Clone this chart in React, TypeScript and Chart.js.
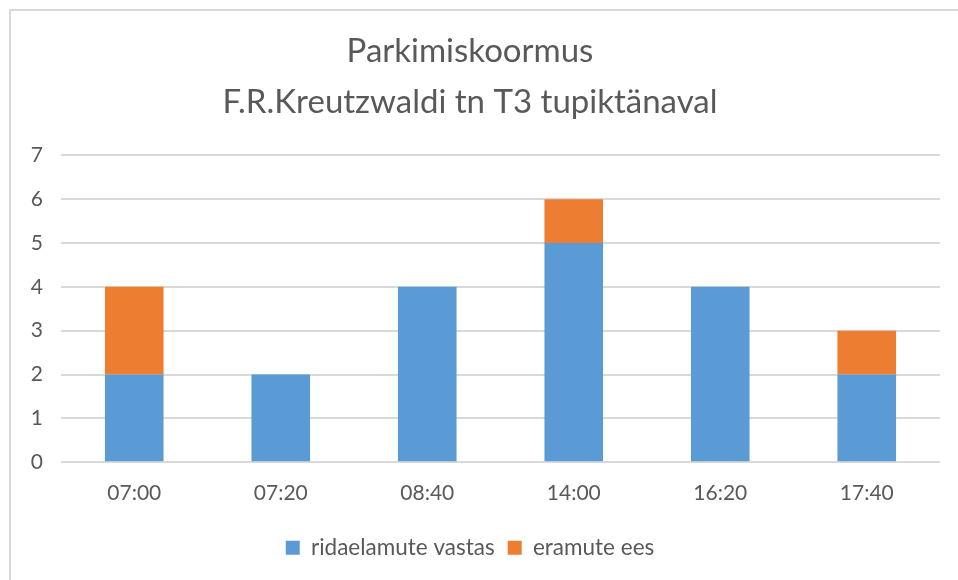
import React, { useEffect, useRef } from "react";
import { Chart, registerables } from "chart.js";

Chart.register(...registerables);

const categories = ["07:00", "07:20", "08:40", "14:00", "16:20", "17:40"];
const ridaelamuteVastas = [2, 2, 4, 5, 4, 2];
const eramuteEes = [2, 0, 0, 1, 0, 1];
const titleLines = ["Parkimiskoormus", "F.R.Kreutzwaldi tn T3 tupiktänaval"];
const seriesNames = ["ridaelamute vastas", "eramute ees"];

const FONT = "Lato, 'Open Sans', sans-serif";
const TEXT = "#595959";

export default function App() {
  const ref = useRef<HTMLCanvasElement>(null);
  useEffect(() => {
    if (!ref.current) return;
    const chart = new Chart(ref.current, {
      type: "bar",
      data: {
        labels: categories,
        datasets: [
          {
            label: seriesNames[0],
            data: ridaelamuteVastas,
            backgroundColor: "#5B9BD5",
            barPercentage: 0.4,
            categoryPercentage: 1,
          },
          {
            label: seriesNames[1],
            data: eramuteEes,
            backgroundColor: "#ED7D31",
            barPercentage: 0.4,
            categoryPercentage: 1,
          },
        ],
      },
      options: {
        animation: false,
        responsive: false,
        layout: { padding: { left: 0, right: 18, top: 26, bottom: 11 } },
        plugins: {
          title: {
            display: true,
            text: titleLines,
            color: TEXT,
            font: { family: FONT, size: 33, weight: "normal", lineHeight: 1.55 },
            padding: { top: 0, bottom: 27 },
          },
          legend: {
            position: "bottom",
            labels: {
              color: TEXT,
              font: { family: FONT, size: 22.5 },
              boxWidth: 14,
              boxHeight: 14,
              padding: 13,
            },
          },
          tooltip: { enabled: false },
        },
        scales: {
          x: {
            stacked: true,
            grid: { display: false, drawTicks: false },
            border: { display: false },
            ticks: { color: TEXT, font: { family: FONT, size: 21 }, padding: 18 },
          },
          y: {
            stacked: true,
            min: 0,
            max: 7,
            afterFit: (s: any) => {
              s.width = 61;
            },
            ticks: {
              stepSize: 1,
              color: TEXT,
              font: { family: FONT, size: 21 },
              padding: 18,
            },
            grid: { color: "#D9D9D9", lineWidth: 2, drawTicks: false },
            border: { display: false },
          },
        },
      },
    });
    return () => chart.destroy();
  }, []);
  return (
    <div style={{ position: "fixed", left: 0, top: 0, width: 958, height: 580, background: "#fff" }}>
      <div
        style={{
          position: "absolute",
          left: 9,
          top: 9,
          width: 960,
          height: 580,
          borderLeft: "2px solid #D9D9D9",
          borderTop: "2px solid #D9D9D9",
        }}
      />
      <canvas ref={ref} width={958} height={580} style={{ position: "absolute", left: 0, top: 0 }} />
    </div>
  );
}
